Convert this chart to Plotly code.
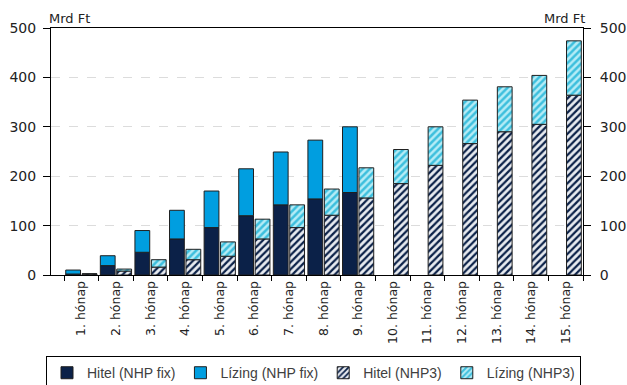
import plotly.graph_objects as go

months = [f"{i}. hónap" for i in range(1, 16)]

# NHP fix (months 1-9 only)
hitel_fix = [2, 19, 46, 73, 96, 120, 142, 154, 167, None, None, None, None, None, None]
lizing_fix = [8, 20, 44, 58, 74, 95, 107, 119, 133, None, None, None, None, None, None]

# NHP3
hitel_nhp3 = [2, 8, 16, 31, 38, 73, 96, 121, 156, 185, 222, 266, 290, 305, 364]
lizing_nhp3 = [0.5, 4, 15, 21, 29, 40, 46, 53, 61, 69, 78, 88, 91, 99, 110]

NAVY = "#0b2148"
BLUE = "#009ee0"
EDGE = "#1f1f1f"
FONT = "DejaVu Sans"

fig = go.Figure()
fig.add_trace(go.Bar(
    x=months, y=hitel_fix, name="Hitel (NHP fix)", offsetgroup="fix",
    marker=dict(color=NAVY, line=dict(color=EDGE, width=1)),
))
fig.add_trace(go.Bar(
    x=months, y=lizing_fix, base=hitel_fix, name="Lízing (NHP fix)", offsetgroup="fix",
    marker=dict(color=BLUE, line=dict(color=EDGE, width=1)),
))
fig.add_trace(go.Bar(
    x=months, y=hitel_nhp3, name="Hitel (NHP3)", offsetgroup="nhp3",
    marker=dict(color="#e8ebf0", line=dict(color=EDGE, width=1),
                pattern=dict(shape="/", fgcolor=NAVY, bgcolor="#e8ebf0",
                             size=5, solidity=0.45, fillmode="replace")),
))
fig.add_trace(go.Bar(
    x=months, y=lizing_nhp3, base=hitel_nhp3, name="Lízing (NHP3)", offsetgroup="nhp3",
    marker=dict(color="#b5ecf6", line=dict(color=EDGE, width=1),
                pattern=dict(shape="/", fgcolor="#3dbfdd", bgcolor="#b5ecf6",
                             size=5, solidity=0.5, fillmode="replace")),
))
# invisible trace to carry the right-hand axis
fig.add_trace(go.Scatter(x=[months[0]], y=[0], yaxis="y2", mode="markers",
                         marker=dict(opacity=0), showlegend=False, hoverinfo="skip"))

tickvals = [0, 100, 200, 300, 400, 500]
fig.update_layout(
    width=627, height=385,
    margin=dict(l=51, r=44, t=28, b=110, autoexpand=False),
    paper_bgcolor="white", plot_bgcolor="white",
    barmode="group", bargap=0.05, bargroupgap=0.1,
    font=dict(family=FONT, size=13, color="#222222"),
    xaxis=dict(
        type="category", tickangle=-90, showline=True, linecolor="black", linewidth=1,
        mirror=True, ticks="outside", ticklen=5, tickcolor="black",
        tickson="boundaries", showgrid=False, tickfont=dict(size=12.5),
        automargin=False,
    ),
    yaxis=dict(
        range=[0, 500], tickvals=tickvals, showline=True, linecolor="black", linewidth=1,
        ticks="outside", ticklen=7, tickcolor="black", showgrid=True,
        gridcolor="#dcdcdc", griddash="dash", gridwidth=1, zeroline=False,
        tickfont=dict(size=14), ticklabelstandoff=4, automargin=False,
    ),
    yaxis2=dict(
        range=[0, 500], tickvals=tickvals, overlaying="y", side="right",
        showline=True, linecolor="black", linewidth=1, ticks="outside", ticklen=7,
        tickcolor="black", showgrid=False, zeroline=False, tickfont=dict(size=14),
        ticklabelstandoff=6, automargin=False,
    ),
    legend=dict(
        orientation="h", xref="container", yref="container",
        x=0.5, xanchor="center", y=0.075, yanchor="top",
        bordercolor="black", borderwidth=1,
        font=dict(family="Liberation Sans", size=14, color="#404040"),
        traceorder="normal",
    ),
    annotations=[
        dict(text="Mrd Ft", xref="paper", yref="paper", x=0, y=1, xanchor="left",
             yanchor="bottom", showarrow=False, font=dict(size=13), xshift=-4),
        dict(text="Mrd Ft", xref="paper", yref="paper", x=1, y=1, xanchor="right",
             yanchor="bottom", showarrow=False, font=dict(size=13), xshift=4),
    ],
)

fig.write_html("out.html")
